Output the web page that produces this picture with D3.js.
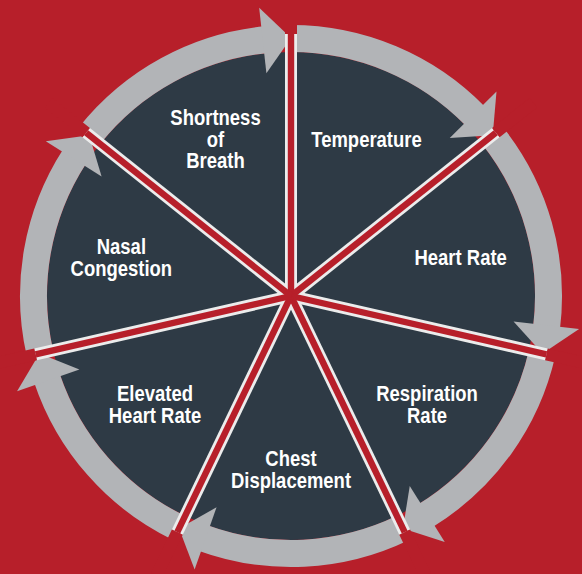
<!DOCTYPE html>
<html lang="en">
<head>
    <meta charset="UTF-8">
    <title>Cycle</title>
    <script src="https://d3js.org/d3.v7.min.js"></script>
    <style>
        body { margin: 0; background: #b71f2a; }
        svg { display: block; }
    </style>
</head>
<body>
    <script>
        // labels, clockwise from 12 o'clock ("\n" = line break)
        var categories = [
            "Temperature",
            "Heart Rate",
            "Respiration\nRate",
            "Chest\nDisplacement",
            "Elevated\nHeart Rate",
            "Nasal\nCongestion",
            "Shortness\nof\nBreath"
        ];
        // every step gets the same share of the wheel
        var weights = [1, 1, 1, 1, 1, 1, 1];

        var width = 582, height = 574;
        var cx = 291, cy = 296;
        var discR = 244, ringIn = 244, ringOut = 271;
        var headLen = 0.11;          // arrow head length (radians)
        var headIn = 224, headOut = 290, tipR = 258;
        var lineEnd = 262;

        var red = "#b71f2a", slate = "#2e3a45", grey = "#b2b4b7", white = "#ececec";

        var svg = d3.select("body").append("svg")
            .attr("width", width)
            .attr("height", height);

        svg.append("rect")
            .attr("width", width)
            .attr("height", height)
            .attr("fill", red);

        var g = svg.append("g").attr("transform", "translate(" + cx + "," + cy + ")");

        var slices = d3.pie().sort(null).value(function(d){ return d; })(weights);

        function pt(r, a) { return [r * Math.sin(a), -r * Math.cos(a)]; }

        g.append("circle").attr("r", discR).attr("fill", slate);

        // arrow ring
        var ringArc = d3.arc().innerRadius(ringIn).outerRadius(ringOut);
        g.selectAll("path.ring")
            .data(slices)
            .enter()
            .append("path")
            .attr("class", "ring")
            .attr("fill", grey)
            .attr("d", function(d){
                return ringArc({ startAngle: d.startAngle, endAngle: d.endAngle - headLen + 0.01 });
            });

        g.selectAll("path.head")
            .data(slices)
            .enter()
            .append("path")
            .attr("class", "head")
            .attr("fill", grey)
            .attr("d", function(d){
                var b = d.endAngle - headLen;
                return "M" + pt(headIn, b) + "L" + pt(headOut, b) + "L" + pt(tipR, d.endAngle) + "Z";
            });

        // separators
        var seps = g.selectAll("g.sep")
            .data(slices)
            .enter()
            .append("g")
            .attr("class", "sep")
            .attr("transform", function(d){ return "rotate(" + (d.startAngle * 180 / Math.PI) + ")"; });

        seps.append("rect")
            .attr("x", -6).attr("y", -lineEnd)
            .attr("width", 12).attr("height", lineEnd)
            .attr("fill", white);

        seps.append("rect")
            .attr("x", -6).attr("y", -310)
            .attr("width", 12).attr("height", 310 - lineEnd)
            .attr("fill", red);

        // red cores drawn after all white bands so the hub stays red
        g.selectAll("rect.core")
            .data(slices)
            .enter()
            .append("rect")
            .attr("class", "core")
            .attr("x", -3.2).attr("y", -lineEnd)
            .attr("width", 6.4).attr("height", lineEnd)
            .attr("fill", red)
            .attr("transform", function(d){ return "rotate(" + (d.startAngle * 180 / Math.PI) + ")"; });

        // labels (condensed by a horizontal squeeze)
        var labelR = 174, lineH = 22, sx = 0.88, sy = 1.04;
        var labels = g.selectAll("text.lab")
            .data(slices)
            .enter()
            .append("text")
            .attr("class", "lab")
            .attr("text-anchor", "middle")
            .attr("fill", "#ffffff")
            .style("font-family", "'Liberation Sans', Arial, sans-serif")
            .style("font-weight", "bold")
            .style("font-size", "21px")
            .attr("transform", function(d){
                var c = pt(labelR, (d.startAngle + d.endAngle) / 2);
                return "translate(" + c[0] + "," + c[1] + ") scale(" + sx + "," + sy + ")";
            });

        labels.each(function(d, i){
            var lines = categories[i].split("\n");
            var y0 = -(lines.length - 1) * lineH / 2 / sy + 7;
            d3.select(this).selectAll("tspan")
                .data(lines)
                .enter()
                .append("tspan")
                .attr("x", 0)
                .attr("y", function(l, j){ return y0 + j * lineH / sy; })
                .text(function(l){ return l; });
        });
    </script>
</body>
</html>
